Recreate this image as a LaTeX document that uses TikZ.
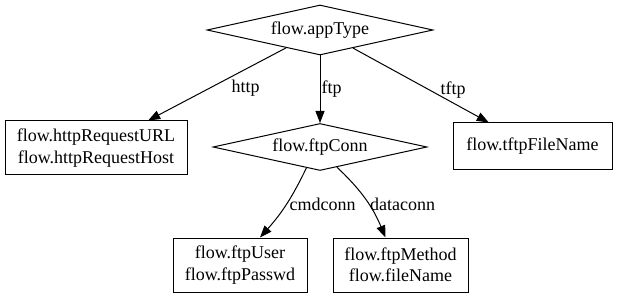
\documentclass[tikz,border=0pt]{standalone}
\usepackage{fontspec}
\setmainfont{Liberation Serif}
\usetikzlibrary{shapes.geometric,arrows.meta}
\begin{document}
\begin{tikzpicture}[x=1pt,y=-1pt,
  every node/.style={font=\fontsize{18}{21.5}\selectfont},
  box/.style={draw, line width=1pt, align=center, inner sep=0pt},
  test/.style={draw, diamond, aspect=4.5, line width=1pt, inner sep=0pt},
  arr/.style={-{Triangle[length=12pt,width=9pt]}, line width=1pt},
  lbl/.style={anchor=west, inner sep=0pt}]
\useasboundingbox (0,0) rectangle (617,296);
% decision nodes
\node[test, minimum width=226pt, minimum height=50pt] (app) at (320,30) {flow.appType};
\node[test, minimum width=214pt, minimum height=47pt] (conn) at (320,147) {flow.ftpConn};
% field boxes
\node[box, minimum width=182pt, minimum height=54pt] (http) at (96,148) {flow.httpRequestURL\\flow.httpRequestHost};
\node[box, minimum width=159pt, minimum height=47pt] (tftp) at (532.5,146.5) {flow.tftpFileName};
\node[box, minimum width=134pt, minimum height=54pt] (user) at (240,265) {flow.ftpUser\\flow.ftpPasswd};
\node[box, minimum width=135pt, minimum height=54pt] (meth) at (400.5,265) {flow.ftpMethod\\flow.fileName};
% connectors
\draw[arr] (app) -- node[lbl, pos=0.45, xshift=7pt, yshift=-8pt] {http} (http);
\draw[arr] (app) -- node[lbl, midway, xshift=1pt] {ftp} (conn);
\draw[arr] (app) -- node[lbl, pos=0.45, xshift=26pt, yshift=-9pt] {tftp} (tftp);
\draw[arr] (conn.237) to[bend left=8] node[lbl, midway, xshift=3pt] {cmdconn} ([xshift=20pt]user.north);
\draw[arr] (conn.310) to[bend left=12] node[lbl, midway, xshift=4pt, yshift=-5pt] {dataconn} ([xshift=-15pt]meth.north);
\end{tikzpicture}
\end{document}
